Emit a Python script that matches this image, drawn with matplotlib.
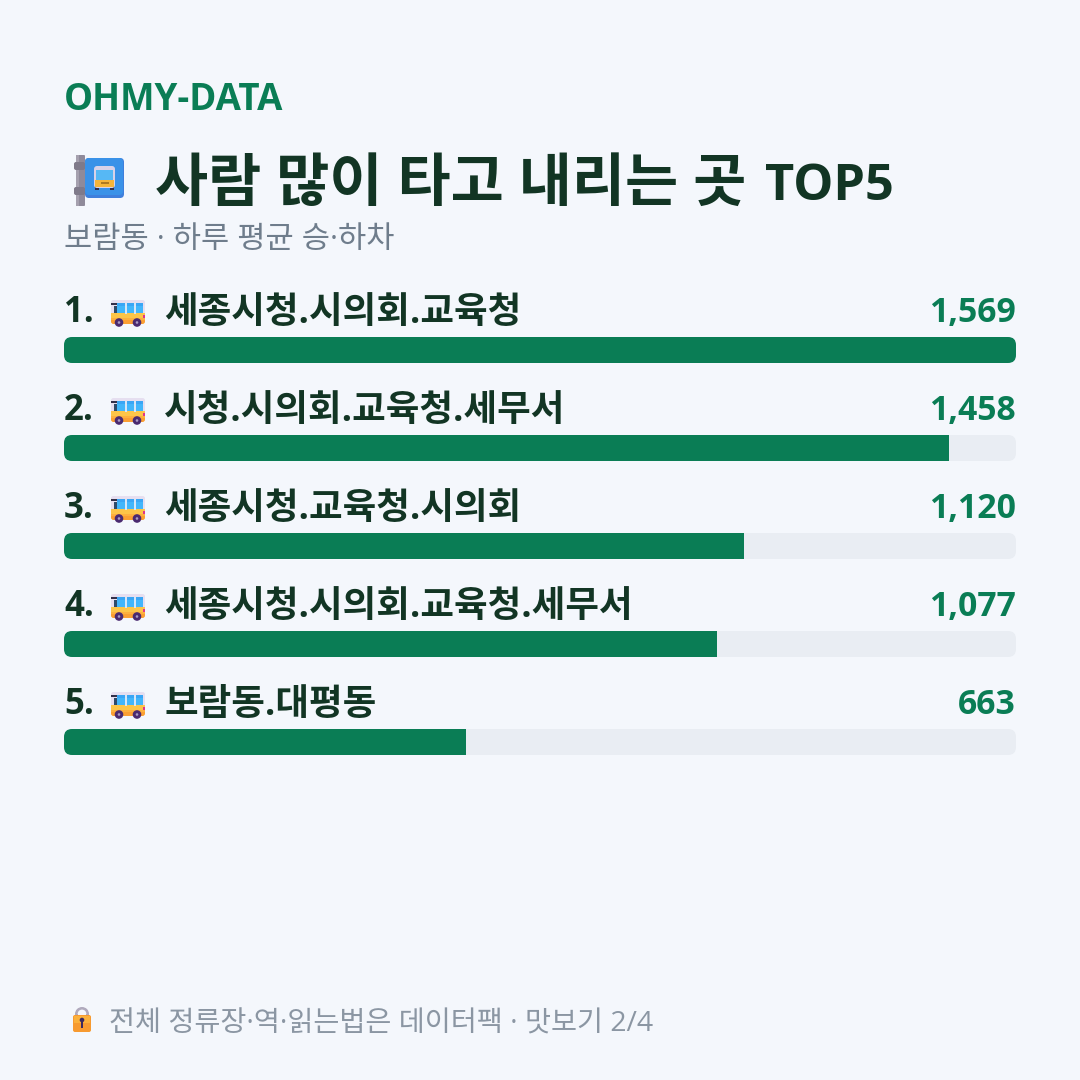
import matplotlib
matplotlib.use("Agg")
import matplotlib.pyplot as plt
from matplotlib.patches import FancyBboxPatch, Rectangle, Circle, Wedge

plt.rcParams['font.family'] = ['Open Sans', 'Noto Sans CJK KR', 'DejaVu Sans']

stops = ["세종시청.시의회.교육청", "시청.시의회.교육청.세무서", "세종시청.교육청.시의회",
         "세종시청.시의회.교육청.세무서", "보람동.대평동"]
riders = [1569, 1458, 1120, 1077, 663]
brand = "OHMY-DATA"
headline = "사람 많이 타고 내리는 곳"
headline_tail = "TOP5"
subhead = "보람동 · 하루 평균 승·하차"
footer = "전체 정류장·역·읽는법은 데이터팩 · 맛보기 2/4"

BG = "#f4f7fc"
GREEN = "#0a7d55"
DARK = "#123524"
TRACK = "#e9edf3"

fig = plt.figure(figsize=(10.8, 10.8), dpi=100, facecolor=BG)

# Pixel-unit layer for text, icons and the bar tracks
px = fig.add_axes([0, 0, 1, 1], zorder=1)
px.set_xlim(0, 1080)
px.set_ylim(1080, 0)
px.axis("off")

# Bar axes: x is the rider count, y stays in pixel rows
ax = fig.add_axes([64 / 1080, 0, 952 / 1080, 1], zorder=2)
ax.set_xlim(0, max(riders))
ax.set_ylim(1080, 0)
ax.axis("off")


def rrect(a, x, y, w, h, r, color, z=3):
    p = FancyBboxPatch((x + r, y + r), w - 2 * r, h - 2 * r,
                       boxstyle=f"round,pad={r},rounding_size={r}",
                       fc=color, ec="none", zorder=z)
    a.add_patch(p)
    return p


def box(a, x, y, w, h, color, z):
    a.add_patch(Rectangle((x, y), w, h, fc=color, ec="none", zorder=z))


def bus(a, x, y):
    """Small side-view bus; x, y is the top-left corner, about 34x27 px."""
    rrect(a, x, y, 34, 23, 2.5, "#e6dff0")
    box(a, x + 6, y + 2.5, 26, 11, "#42b6fb", 4)
    box(a, x + 6, y + 2.5, 26, 3, "#3aa6f5", 5)
    for dx in (14, 23):
        box(a, x + dx, y + 2.5, 1.5, 11, "#d6e6f7", 6)
    box(a, x, y + 3, 5.5, 2, "#33304a", 5)
    box(a, x + 2.5, y + 6, 3, 7, "#2f4a6a", 5)
    rrect(a, x, y + 13, 34, 11, 2.5, "#fb9f33", z=4)
    box(a, x, y + 13, 34, 4.5, "#fdc548", 5)
    box(a, x, y + 17.5, 34, 2.5, "#fdb03e", 5)
    box(a, x + 32, y + 15, 2, 3, "#e0358a", 6)
    for dx in (8, 26):
        a.add_patch(Circle((x + dx, y + 22.5), 4.3, fc="#4a2a70", ec="none", zorder=6))
        a.add_patch(Circle((x + dx, y + 22.5), 1.3, fc="#a99bc4", ec="none", zorder=7))


def bus_stop(a, x, y):
    """Bus-stop sign on a pole; x, y is the top-left corner."""
    rrect(a, x + 2, y, 9, 51, 1, "#8f8a9a")
    box(a, x + 2, y, 3, 51, "#a5a0ae", 3)
    rrect(a, x, y + 7, 11, 8, 2, "#7f7a8a", z=4)
    rrect(a, x, y + 32, 11, 8, 2, "#7f7a8a", z=4)
    rrect(a, x + 11, y + 3, 39, 40, 4, "#3f7fdc", z=5)
    rrect(a, x + 11, y + 3, 38, 37, 4, "#3a92e8", z=5)
    rrect(a, x + 20, y + 11, 21, 22, 3, "#d9d2e8", z=6)
    box(a, x + 22, y + 15, 17, 10, "#56b8f5", 7)
    box(a, x + 21, y + 25, 19, 7, "#f5b53a", 7)
    box(a, x + 27, y + 27, 8, 2, "#b07a20", 8)
    for dx in (21, 36):
        box(a, x + dx, y + 32, 4, 3, "#33304a", 5)


def lock(a, x, y):
    """Padlock; x, y is the top-left corner, about 18x25 px."""
    a.add_patch(Wedge((x + 9, y + 7), 7, 180, 360, width=2.6, fc="#b0aabd", ec="none", zorder=3))
    box(a, x + 2, y + 7, 2.6, 4, "#b0aabd", 3)
    box(a, x + 13.4, y + 7, 2.6, 4, "#b0aabd", 3)
    rrect(a, x, y + 8, 18, 17, 2, "#f79a30", z=4)
    box(a, x + 1, y + 9, 16, 7, "#fbb13c", 5)
    a.add_patch(Circle((x + 9, y + 13), 2.3, fc="#3a2a60", ec="none", zorder=6))
    box(a, x + 8, y + 13, 2, 7.5, "#3a2a60", 6)


px.text(64, 110, brand, fontsize=26.4, fontweight="bold", color=GREEN, va="baseline")
bus_stop(px, 74, 155)
px.text(155, 201, headline, fontsize=41.6, fontweight="bold", color=DARK, va="baseline")
px.text(765, 200, headline_tail, fontsize=36.4, fontweight="bold", color=DARK, va="baseline")
px.text(64, 248, subhead, fontsize=22.1, color="#6f7d8c", va="baseline")

for i, (name, value) in enumerate(zip(stops, riders)):
    top = 337 + 98 * i
    base = top - 15
    px.text(64, base, f"{i + 1}.", fontsize=25, fontweight="bold", color=DARK, va="baseline")
    bus(px, 111, base - 22)
    px.text(164, base + 1, name, fontsize=26.3, fontweight="bold", color=DARK, va="baseline")
    px.text(1016, base, f"{value:,}", fontsize=24.3, fontweight="bold", color=GREEN,
            va="baseline", ha="right")
    rrect(px, 64, top, 952, 26, 8, TRACK, z=1)
    # The bar takes its rounded ends from the track behind it
    bars = ax.barh(top + 13, value, height=26, color=GREEN, linewidth=0)
    clip = FancyBboxPatch((72, top + 8), 936, 10, boxstyle="round,pad=8,rounding_size=8",
                          transform=px.transData, fc="none", ec="none")
    bars[0].set_clip_path(clip)

lock(px, 73, 1007)
px.text(109, 1031, footer, fontsize=20.4, color="#8b96a3", va="baseline")

fig.savefig("out.png", dpi=100, facecolor=BG)
